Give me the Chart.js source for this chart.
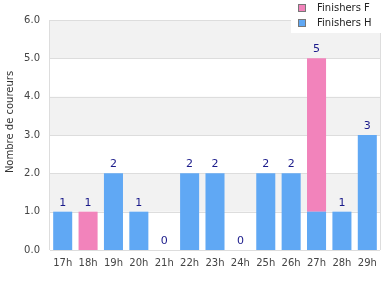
<!DOCTYPE html>
<html>
<head>
<meta charset="utf-8">
<script src="https://cdn.jsdelivr.net/npm/chart.js@4/dist/chart.umd.min.js"></script>
<style>
  html, body { margin:0; padding:0; background:#fff; }
  #wrap { width:390px; height:300px; position:relative; }
</style>
</head>
<body>
<div id="wrap"><canvas id="graf"></canvas></div>
<script>
const heures     = ['17h','18h','19h','20h','21h','22h','23h','24h','25h','26h','27h','28h','29h'];
const finishersH = [1, 0, 2, 1, 0, 2, 2, 0, 2, 2, 1, 1, 3];
const finishersF = [0, 1, 0, 0, 0, 0, 0, 0, 0, 0, 4, 0, 0];
const yTicks     = [0, 1, 2, 3, 4, 5, 6];
const titreY     = 'Nombre de coureurs';

const bleu = '#60a8f4';
const rose = '#f283bb';
const police = 'DejaVu Sans';

// bandes grises alternees + bords
const bandes = {
  id:'bandes',
  beforeDatasetsDraw(chart){
    const {ctx, chartArea:a, scales:{y}} = chart;
    ctx.save();
    ctx.fillStyle = '#f2f2f2';
    for (let v = 1; v < yTicks.length - 1; v += 2){
      const y1 = y.getPixelForValue(v+1), y0 = y.getPixelForValue(v);
      ctx.fillRect(a.left, y1, a.right - a.left, y0 - y1);
    }
    ctx.strokeStyle = '#dddddd';
    ctx.lineWidth = 1;
    yTicks.forEach(v => {
      const py = Math.round(y.getPixelForValue(v)) + 0.5;
      ctx.beginPath(); ctx.moveTo(a.left, py); ctx.lineTo(a.right, py); ctx.stroke();
    });
    ctx.beginPath();
    ctx.moveTo(a.right + 0.5, a.top); ctx.lineTo(a.right + 0.5, a.bottom);
    ctx.moveTo(a.left - 0.5, a.top); ctx.lineTo(a.left - 0.5, a.bottom);
    ctx.stroke();
    ctx.restore();
  }
};

// totaux au-dessus des barres, titre Y, legende
const etiquettes = {
  id:'etiquettes',
  afterDraw(chart){
    const {ctx, scales:{x, y}} = chart;
    ctx.save();
    ctx.font = '11px "' + police + '"';
    ctx.fillStyle = '#1a1a8a';
    ctx.textAlign = 'center';
    ctx.textBaseline = 'middle';
    heures.forEach((h, i) => {
      const tot = finishersH[i] + finishersF[i];
      ctx.fillText(String(tot), x.getPixelForValue(i), y.getPixelForValue(tot) - 9);
    });
    // titre axe Y
    ctx.save();
    ctx.translate(10, 122);
    ctx.rotate(-Math.PI / 2);
    ctx.font = '10px "' + police + '"';
    ctx.fillStyle = '#333';
    ctx.fillText(titreY, 0, 0);
    ctx.restore();
    // legende
    ctx.fillStyle = '#ffffff';
    ctx.fillRect(291, 0, 99, 33);
    const items = [{t:'Finishers F', c:rose}, {t:'Finishers H', c:bleu}];
    ctx.textAlign = 'left';
    ctx.font = '10px "' + police + '"';
    items.forEach((it, k) => {
      const cy = 8 + k * 15;
      ctx.fillStyle = it.c;
      ctx.fillRect(298, cy - 4, 8, 8);
      ctx.strokeStyle = '#777';
      ctx.lineWidth = 1;
      ctx.strokeRect(298.5, cy - 3.5, 7, 7);
      ctx.fillStyle = '#222';
      ctx.fillText(it.t, 317, cy);
    });
    ctx.restore();
  }
};

new Chart(document.getElementById('graf'), {
  type:'bar',
  data:{
    labels:heures,
    datasets:[
      {label:'Finishers H', data:finishersH, backgroundColor:bleu, barPercentage:0.75, categoryPercentage:1},
      {label:'Finishers F', data:finishersF, backgroundColor:rose, barPercentage:0.75, categoryPercentage:1}
    ]
  },
  options:{
    responsive:true,
    maintainAspectRatio:false,
    animation:false,
    layout:{padding:{top:20, right:10, left:0, bottom:0}},
    plugins:{legend:{display:false}, tooltip:{enabled:false}},
    scales:{
      x:{
        stacked:true,
        grid:{display:false, drawTicks:false},
        border:{display:false},
        ticks:{color:'#444', font:{family:police, size:10}, padding:7, maxRotation:0, autoSkip:false},
        afterFit(s){ s.height = 50; }
      },
      y:{
        stacked:true,
        min:0, max:6,
        grid:{display:false, drawTicks:false},
        border:{display:false},
        ticks:{stepSize:1, color:'#444', font:{family:police, size:10}, padding:10,
               callback:v => v.toFixed(1)},
        afterFit(s){ s.width = 50; }
      }
    }
  },
  plugins:[bandes, etiquettes]
});
</script>
</body>
</html>
